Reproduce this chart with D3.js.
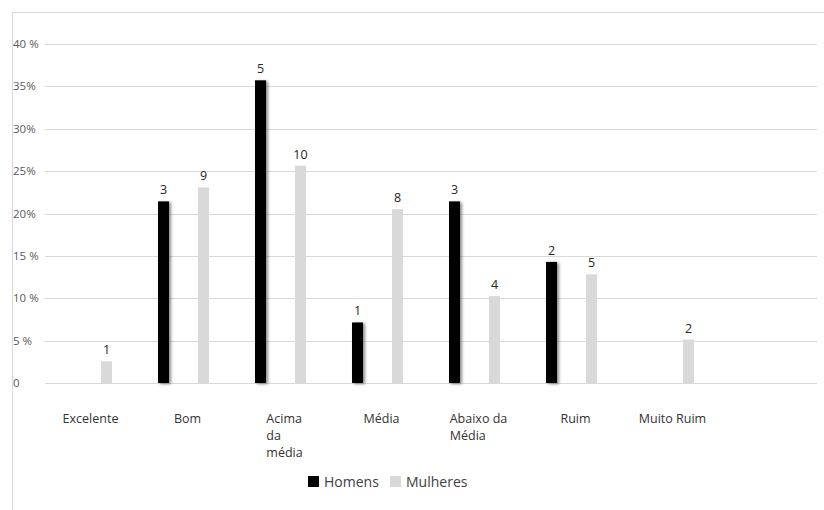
<!DOCTYPE html>
<html>
<head>
<meta charset="utf-8">
<script src="https://cdn.jsdelivr.net/npm/d3@7"></script>
<style>
  html, body { margin: 0; padding: 0; background: #fff; }
  svg { display: block; font-family: "Open Sans", "Noto Sans", sans-serif; }
</style>
</head>
<body>
<svg id="chart" width="824" height="510"></svg>
<script>
// Avaliação por sexo: número de respostas e percentual dentro de cada grupo
const categories = ["Excelente", "Bom", "Acima da média", "Média", "Abaixo da Média", "Ruim", "Muito Ruim"];
// how each category name breaks across lines under the axis
const categoryLines = [["Excelente"], ["Bom"], ["Acima", "da", "média"], ["Média"], ["Abaixo da", "Média"], ["Ruim"], ["Muito Ruim"]];
const seriesNames = ["Homens", "Mulheres"];
const homensCount = [0, 3, 5, 1, 3, 2, 0];
const mulheresCount = [1, 9, 10, 8, 4, 5, 2];
const yTicks = [0, 5, 10, 15, 20, 25, 30, 35, 40];
const yTickLabels = ["0", "5 %", "10 %", "15 %", "20%", "25%", "30%", "35%", "40 %"];
const seriesColors = ["#000000", "#d9d9d9"];

const svg = d3.select("#chart");
const W = 824, H = 510;

// outer frame (top and left edges)
svg.append("line").attr("x1", 12).attr("x2", W).attr("y1", 12.5).attr("y2", 12.5)
  .attr("stroke", "#d9d9d9");
svg.append("line").attr("x1", 12.5).attr("x2", 12.5).attr("y1", 12).attr("y2", H)
  .attr("stroke", "#d9d9d9");

const plot = { left: 45, right: 817, top: 44, bottom: 383 };
const y = d3.scaleLinear().domain([0, 40]).range([plot.bottom, plot.top]);
const x = d3.scaleBand().domain(categories).range([38, 717]);
const sub = d3.scaleBand().domain(seriesNames).range([-25.5, 25.5]).paddingInner(0.725).paddingOuter(0);

// drop shadow under the dark bars
const defs = svg.append("defs");
const f = defs.append("filter").attr("id", "shadow")
  .attr("x", "-50%").attr("y", "-5%").attr("width", "200%").attr("height", "110%");
f.append("feDropShadow").attr("dx", 2).attr("dy", 1).attr("stdDeviation", 1.4)
  .attr("flood-color", "#000").attr("flood-opacity", 0.45);

// gridlines
svg.append("g").selectAll("line").data(yTicks).join("line")
  .attr("x1", plot.left).attr("x2", plot.right)
  .attr("y1", d => Math.round(y(d)) + 0.5).attr("y2", d => Math.round(y(d)) + 0.5)
  .attr("stroke", "#d9d9d9").attr("stroke-width", 1);

// y tick labels
svg.append("g").selectAll("text").data(yTicks).join("text")
  .attr("x", 13).attr("y", d => y(d) + 4)
  .attr("font-size", 11.5).attr("fill", "#595959")
  .text((d, i) => yTickLabels[i]);

const totals = [d3.sum(homensCount), d3.sum(mulheresCount)];
const counts = [homensCount, mulheresCount];
const rows = [];
categories.forEach((c, i) => {
  seriesNames.forEach((s, j) => {
    const n = counts[j][i];
    if (n > 0) rows.push({ cat: c, series: s, j, n, pct: 100 * n / totals[j] });
  });
});

const bw = sub.bandwidth();
const cx = d => x(d.cat) + x.bandwidth() / 2 + sub(d.series);

// bars
svg.append("g").selectAll("rect").data(rows).join("rect")
  .attr("x", cx).attr("width", bw)
  .attr("y", d => y(d.pct)).attr("height", d => y(0) - y(d.pct))
  .attr("fill", d => seriesColors[d.j])
  .attr("filter", d => d.j === 0 ? "url(#shadow)" : null);

// count labels above bars
svg.append("g").selectAll("text").data(rows).join("text")
  .attr("x", d => cx(d) + bw / 2).attr("y", d => y(d.pct) - 7)
  .attr("text-anchor", "middle").attr("font-size", 12.5).attr("fill", "#262626")
  .text(d => d.n);

// category labels: lines left-aligned, block centred under the category
const xl = svg.append("g");
categories.forEach((c, i) => {
  const t = xl.append("text").attr("font-size", 12.5).attr("fill", "#333");
  categoryLines[i].forEach((ln, k) => {
    t.append("tspan").attr("y", 423 + k * 17).text(ln);
  });
  let wmax = 0;
  t.selectAll("tspan").each(function () { wmax = Math.max(wmax, this.getComputedTextLength()); });
  const left = x(c) + x.bandwidth() / 2 + 4 - wmax / 2;
  t.selectAll("tspan").attr("x", left);
});

// legend
const lg = svg.append("g").attr("transform", "translate(308,476)");
const li = lg.selectAll("g").data(seriesNames).join("g")
  .attr("transform", (d, i) => `translate(${i * 82},0)`);
li.append("rect").attr("width", 11).attr("height", 11)
  .attr("fill", (d, i) => seriesColors[i]);
li.append("text").attr("x", 16).attr("y", 11)
  .attr("font-size", 14).attr("fill", "#404040").text(d => d);
</script>
</body>
</html>
